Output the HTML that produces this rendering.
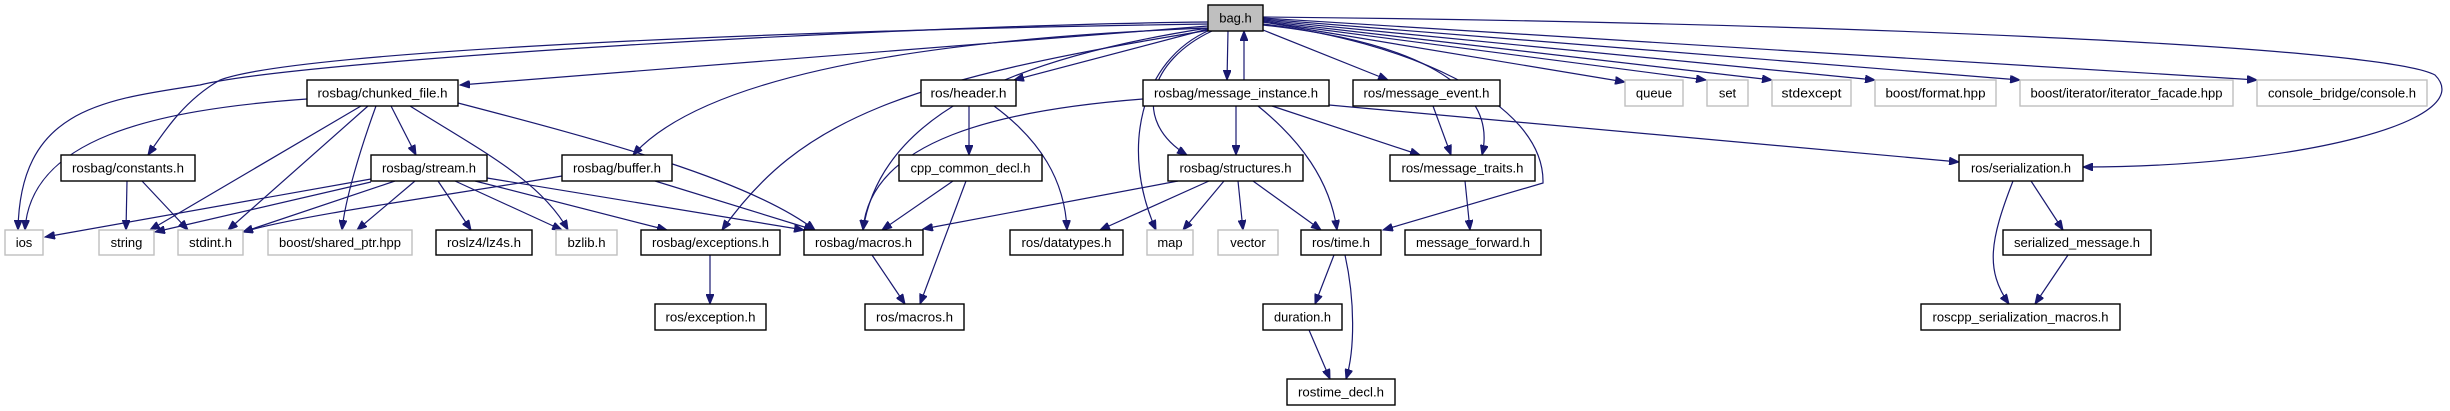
<!DOCTYPE html>
<html><head><meta charset="utf-8"><style>
html,body{margin:0;padding:0;background:#fff;}
svg{display:block;}
text{font-family:"Liberation Sans",sans-serif;font-size:13px;fill:#000;}
.b{fill:#fff;stroke:#000;stroke-width:1.4;}
.g{fill:#fff;stroke:#bfbfbf;stroke-width:1.4;}
.e{fill:none;stroke:#191970;stroke-width:1.2;marker-end:url(#a);}
</style></head><body>
<svg width="2450" height="411" viewBox="0 0 2450 411" xmlns="http://www.w3.org/2000/svg">
<defs><marker id="a" markerUnits="userSpaceOnUse" markerWidth="11" markerHeight="8" refX="10" refY="4" orient="auto"><path d="M0,0 L10,4 L0,8 z" fill="#191970" stroke="#191970"/></marker></defs>
<g>
<!-- bag edges -->
<path class="e" d="M1208,22 C900,25 300,60 200,85 C100,100 20,110 18,230"/>
<path class="e" d="M1208,24 C800,30 300,50 220,80 C185,100 165,130 148,155"/>
<path class="e" d="M1208,26 L460,85"/>
<path class="e" d="M1208,28 C900,40 700,80 633,155"/>
<path class="e" d="M1208,28 C1000,60 880,120 863,230"/>
<path class="e" d="M1210,30 C900,80 800,120 722,230"/>
<path class="e" d="M1208,29 L1014,80"/>
<path class="e" d="M1228,31 L1227,80"/>
<path class="e" d="M1244,80 L1244,31"/>
<path class="e" d="M1210,30 C1140,60 1120,150 1156,230"/>
<path class="e" d="M1212,31 C1150,60 1130,120 1187,155"/>
<path class="e" d="M1263,24 C1400,40 1545,100 1543,183 L1383,230"/>
<path class="e" d="M1263,30 L1388,80"/>
<path class="e" d="M1263,25 C1400,40 1500,80 1482,155"/>
<path class="e" d="M1263,22 L1625,82"/>
<path class="e" d="M1263,22 L1706,80"/>
<path class="e" d="M1263,21 L1772,80"/>
<path class="e" d="M1263,20 L1875,80"/>
<path class="e" d="M1263,19 L2020,80"/>
<path class="e" d="M1263,18 L2257,80"/>
<path class="e" d="M1263,17 C1800,22 2380,45 2435,75 C2480,120 2300,167 2083,167"/>
<!-- message_instance -->
<path class="e" d="M1143,99 C1000,110 870,140 863,230"/>
<path class="e" d="M1236,106 L1236,155"/>
<path class="e" d="M1258,106 C1300,140 1330,180 1337,230"/>
<path class="e" d="M1272,106 L1420,155"/>
<path class="e" d="M1329,105 L1959,162"/>
<!-- chunked -->
<path class="e" d="M307,99 C150,110 30,140 25,230"/>
<path class="e" d="M361,106 L150,230"/>
<path class="e" d="M368,106 L228,230"/>
<path class="e" d="M376,106 C360,150 345,200 342,230"/>
<path class="e" d="M391,106 L416,155"/>
<path class="e" d="M410,106 C480,150 540,180 568,230"/>
<path class="e" d="M458,103 C600,140 750,180 815,230"/>
<!-- constants -->
<path class="e" d="M127,181 L126,230"/>
<path class="e" d="M142,181 L188,230"/>
<!-- stream -->
<path class="e" d="M371,179 L45,237"/>
<path class="e" d="M371,182 L155,232"/>
<path class="e" d="M395,181 L243,232"/>
<path class="e" d="M415,181 L357,230"/>
<path class="e" d="M438,181 L471,230"/>
<path class="e" d="M455,181 L562,230"/>
<path class="e" d="M475,181 L667,230"/>
<path class="e" d="M487,178 L804,230"/>
<!-- buffer -->
<path class="e" d="M562,176 C450,195 300,215 243,232"/>
<path class="e" d="M655,181 L814,230"/>
<!-- others -->
<path class="e" d="M710,255 L710,304"/>
<path class="e" d="M969,106 L969,155"/>
<path class="e" d="M994,106 C1040,140 1065,180 1067,230"/>
<path class="e" d="M953,181 L882,230"/>
<path class="e" d="M966,181 L920,304"/>
<path class="e" d="M872,255 L905,304"/>
<path class="e" d="M1178,181 L923,229"/>
<path class="e" d="M1209,181 L1100,230"/>
<path class="e" d="M1224,181 L1183,230"/>
<path class="e" d="M1238,181 L1243,230"/>
<path class="e" d="M1253,181 L1321,230"/>
<path class="e" d="M1433,106 L1451,155"/>
<path class="e" d="M1465,181 L1470,230"/>
<path class="e" d="M1334,255 L1315,304"/>
<path class="e" d="M1345,255 C1355,300 1355,350 1346,379"/>
<path class="e" d="M1309,330 L1330,379"/>
<path class="e" d="M2031,181 L2063,230"/>
<path class="e" d="M2013,181 C1990,240 1985,270 2009,304"/>
<path class="e" d="M2068,255 L2035,304"/>
</g>
<g text-anchor="middle">
<rect x="1208" y="5" width="55" height="26" fill="#bfbfbf" stroke="#000" stroke-width="1.4"/><text x="1235.5" y="22.5">bag.h</text>
<!-- row1 -->
<rect class="b" x="307" y="80" width="151" height="26"/><text x="382.5" y="97.5" textLength="130" lengthAdjust="spacingAndGlyphs">rosbag/chunked_file.h</text>
<rect class="b" x="921" y="80" width="95" height="26"/><text x="968.5" y="97.5" textLength="76" lengthAdjust="spacingAndGlyphs">ros/header.h</text>
<rect class="b" x="1143" y="80" width="186" height="26"/><text x="1236" y="97.5" textLength="164" lengthAdjust="spacingAndGlyphs">rosbag/message_instance.h</text>
<rect class="b" x="1353" y="80" width="147" height="26"/><text x="1426.5" y="97.5" textLength="126" lengthAdjust="spacingAndGlyphs">ros/message_event.h</text>
<rect class="g" x="1625" y="80" width="58" height="26"/><text x="1654" y="97.5">queue</text>
<rect class="g" x="1707" y="80" width="41" height="26"/><text x="1727.5" y="97.5">set</text>
<rect class="g" x="1772" y="80" width="79" height="26"/><text x="1811.5" y="97.5" textLength="60" lengthAdjust="spacingAndGlyphs">stdexcept</text>
<rect class="g" x="1875" y="80" width="121" height="26"/><text x="1935.5" y="97.5" textLength="100" lengthAdjust="spacingAndGlyphs">boost/format.hpp</text>
<rect class="g" x="2020" y="80" width="213" height="26"/><text x="2126.5" y="97.5" textLength="192" lengthAdjust="spacingAndGlyphs">boost/iterator/iterator_facade.hpp</text>
<rect class="g" x="2257" y="80" width="170" height="26"/><text x="2342" y="97.5" textLength="148" lengthAdjust="spacingAndGlyphs">console_bridge/console.h</text>
<!-- row2 -->
<rect class="b" x="61" y="155" width="134" height="26"/><text x="128" y="172.5" textLength="112" lengthAdjust="spacingAndGlyphs">rosbag/constants.h</text>
<rect class="b" x="371" y="155" width="116" height="26"/><text x="429" y="172.5" textLength="94" lengthAdjust="spacingAndGlyphs">rosbag/stream.h</text>
<rect class="b" x="562" y="155" width="110" height="26"/><text x="617" y="172.5" textLength="88" lengthAdjust="spacingAndGlyphs">rosbag/buffer.h</text>
<rect class="b" x="899" y="155" width="143" height="26"/><text x="970.5" y="172.5" textLength="120" lengthAdjust="spacingAndGlyphs">cpp_common_decl.h</text>
<rect class="b" x="1168" y="155" width="135" height="26"/><text x="1235.5" y="172.5" textLength="112" lengthAdjust="spacingAndGlyphs">rosbag/structures.h</text>
<rect class="b" x="1390" y="155" width="145" height="26"/><text x="1462.5" y="172.5" textLength="122" lengthAdjust="spacingAndGlyphs">ros/message_traits.h</text>
<rect class="b" x="1959" y="155" width="124" height="26"/><text x="2021" y="172.5" textLength="100" lengthAdjust="spacingAndGlyphs">ros/serialization.h</text>
<!-- row3 -->
<rect class="g" x="5" y="230" width="38" height="25"/><text x="24" y="247">ios</text>
<rect class="g" x="99" y="230" width="55" height="25"/><text x="126.5" y="247">string</text>
<rect class="g" x="178" y="230" width="65" height="25"/><text x="210.5" y="247" textLength="43" lengthAdjust="spacingAndGlyphs">stdint.h</text>
<rect class="g" x="268" y="230" width="144" height="25"/><text x="340" y="247" textLength="122" lengthAdjust="spacingAndGlyphs">boost/shared_ptr.hpp</text>
<rect class="b" x="436" y="230" width="96" height="25"/><text x="484" y="247" textLength="74" lengthAdjust="spacingAndGlyphs">roslz4/lz4s.h</text>
<rect class="g" x="556" y="230" width="61" height="25"/><text x="586.5" y="247" textLength="38" lengthAdjust="spacingAndGlyphs">bzlib.h</text>
<rect class="b" x="641" y="230" width="139" height="25"/><text x="710.5" y="247" textLength="117" lengthAdjust="spacingAndGlyphs">rosbag/exceptions.h</text>
<rect class="b" x="804" y="230" width="119" height="25"/><text x="863.5" y="247" textLength="97" lengthAdjust="spacingAndGlyphs">rosbag/macros.h</text>
<rect class="b" x="1010" y="230" width="113" height="25"/><text x="1066.5" y="247" textLength="90" lengthAdjust="spacingAndGlyphs">ros/datatypes.h</text>
<rect class="g" x="1147" y="230" width="46" height="25"/><text x="1170" y="247">map</text>
<rect class="g" x="1218" y="230" width="60" height="25"/><text x="1248" y="247">vector</text>
<rect class="b" x="1301" y="230" width="80" height="25"/><text x="1341" y="247" textLength="58" lengthAdjust="spacingAndGlyphs">ros/time.h</text>
<rect class="b" x="1405" y="230" width="136" height="25"/><text x="1473" y="247" textLength="114" lengthAdjust="spacingAndGlyphs">message_forward.h</text>
<rect class="b" x="2003" y="230" width="148" height="25"/><text x="2077" y="247" textLength="126" lengthAdjust="spacingAndGlyphs">serialized_message.h</text>
<!-- row4 -->
<rect class="b" x="655" y="304" width="111" height="26"/><text x="710.5" y="321.5" textLength="90" lengthAdjust="spacingAndGlyphs">ros/exception.h</text>
<rect class="b" x="865" y="304" width="99" height="26"/><text x="914.5" y="321.5" textLength="77" lengthAdjust="spacingAndGlyphs">ros/macros.h</text>
<rect class="b" x="1263" y="304" width="79" height="26"/><text x="1302.5" y="321.5" textLength="57" lengthAdjust="spacingAndGlyphs">duration.h</text>
<rect class="b" x="1921" y="304" width="199" height="26"/><text x="2020.5" y="321.5" textLength="176" lengthAdjust="spacingAndGlyphs">roscpp_serialization_macros.h</text>
<!-- row5 -->
<rect class="b" x="1287" y="379" width="108" height="26"/><text x="1341" y="396.5" textLength="86" lengthAdjust="spacingAndGlyphs">rostime_decl.h</text>
</g>
</svg>
</body></html>
